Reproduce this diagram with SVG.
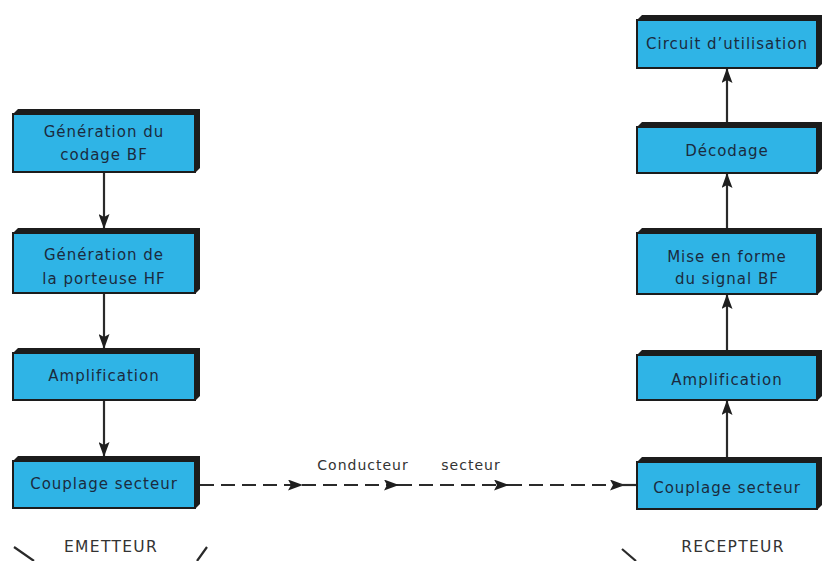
<svg xmlns="http://www.w3.org/2000/svg" width="826" height="561" viewBox="0 0 826 561">
<style>
.sh{fill:#1c1c1c}
.bx{fill:#2fb4e6;stroke:#1c1c1c;stroke-width:2}
.t{font-family:"DejaVu Sans",sans-serif;font-size:15px;font-weight:500;fill:#1b2b3e;text-anchor:middle;letter-spacing:1px}
.lbl{font-family:"DejaVu Sans",sans-serif;font-size:14px;fill:#333;text-anchor:middle;letter-spacing:1px}
.big{font-size:15.5px;letter-spacing:1.3px}
.ln{stroke:#2a2a2a;stroke-width:2.2;fill:none}
.ds{stroke:#2a2a2a;stroke-width:2.2;fill:none;stroke-dasharray:14 7}
</style>
<defs>
<marker id="ah" markerWidth="15" markerHeight="11" refX="14" refY="5.5" orient="auto" markerUnits="userSpaceOnUse" viewBox="0 0 15 11">
<path d="M0,0 L15,5.5 L0,11 L3,5.5 Z" fill="#1e1e1e"/>
</marker>
</defs>
<rect width="826" height="561" fill="#fff"/>

<g id="n1"><polygon class="sh" points="13,114 18,109 200,109 200,168 195,173 13,173"/><rect class="bx" x="13" y="114" width="182" height="58"/><text class="t" x="104" y="137">Génération du</text><text class="t" x="104" y="160">codage BF</text></g>
<g id="n2"><polygon class="sh" points="13,233 18,228 200,228 200,289 195,294 13,294"/><rect class="bx" x="13" y="233" width="182" height="60"/><text class="t" x="104" y="260">Génération de</text><text class="t" x="104" y="284">la porteuse HF</text></g>
<g id="n3"><polygon class="sh" points="13,353 18,348 200,348 200,396 195,401 13,401"/><rect class="bx" x="13" y="353" width="182" height="47"/><text class="t" x="104" y="381">Amplification</text></g>
<g id="n4"><polygon class="sh" points="13,461 18,456 200,456 200,504 195,509 13,509"/><rect class="bx" x="13" y="461" width="182" height="47"/><text class="t" x="104" y="489">Couplage secteur</text></g>

<g id="n5"><polygon class="sh" points="637,20 642,15 822,15 822,64 817,69 637,69"/><rect class="bx" x="637" y="20" width="180" height="48"/><text class="t" x="727" y="49">Circuit d’utilisation</text></g>
<g id="n6"><polygon class="sh" points="637,127 642,122 822,122 822,169 817,174 637,174"/><rect class="bx" x="637" y="127" width="180" height="46"/><text class="t" x="727" y="156">Décodage</text></g>
<g id="n7"><polygon class="sh" points="637,233 642,228 822,228 822,290 817,295 637,295"/><rect class="bx" x="637" y="233" width="180" height="61"/><text class="t" x="727" y="262">Mise en forme</text><text class="t" x="727" y="284">du signal BF</text></g>
<g id="n8"><polygon class="sh" points="637,355 642,350 822,350 822,396 817,401 637,401"/><rect class="bx" x="637" y="355" width="180" height="45"/><text class="t" x="727" y="385">Amplification</text></g>
<g id="n9"><polygon class="sh" points="637,462 642,457 822,457 822,505 817,510 637,510"/><rect class="bx" x="637" y="462" width="180" height="47"/><text class="t" x="727" y="493">Couplage secteur</text></g>

<g id="connectors">
<line class="ln" x1="104" y1="173" x2="104" y2="228" marker-end="url(#ah)"/>
<line class="ln" x1="104" y1="294" x2="104" y2="348" marker-end="url(#ah)"/>
<line class="ln" x1="104" y1="401" x2="104" y2="456" marker-end="url(#ah)"/>
<line class="ln" x1="727" y1="122" x2="727" y2="69" marker-end="url(#ah)"/>
<line class="ln" x1="727" y1="228" x2="727" y2="174" marker-end="url(#ah)"/>
<line class="ln" x1="727" y1="350" x2="727" y2="295" marker-end="url(#ah)"/>
<line class="ln" x1="727" y1="457" x2="727" y2="401" marker-end="url(#ah)"/>
<line class="ds" x1="200" y1="485" x2="302" y2="485" marker-end="url(#ah)"/>
<line class="ds" x1="302" y1="485" x2="398" y2="485" marker-end="url(#ah)"/>
<line class="ds" x1="398" y1="485" x2="508" y2="485" marker-end="url(#ah)"/>
<line class="ds" x1="508" y1="485" x2="624" y2="485" marker-end="url(#ah)"/>
<line class="ln" x1="620" y1="485" x2="636" y2="485"/>
</g>
<text class="lbl" x="363" y="470">Conducteur</text>
<text class="lbl" x="471" y="470">secteur</text>

<text class="lbl big" x="111" y="552">EMETTEUR</text>
<path class="ln" d="M14,547 L34,561 M207,547 L197,561" stroke-width="1.5"/>
<text class="lbl big" x="733" y="552">RECEPTEUR</text>
<path class="ln" d="M622,549 L636,561" stroke-width="1.5"/>
</svg>
